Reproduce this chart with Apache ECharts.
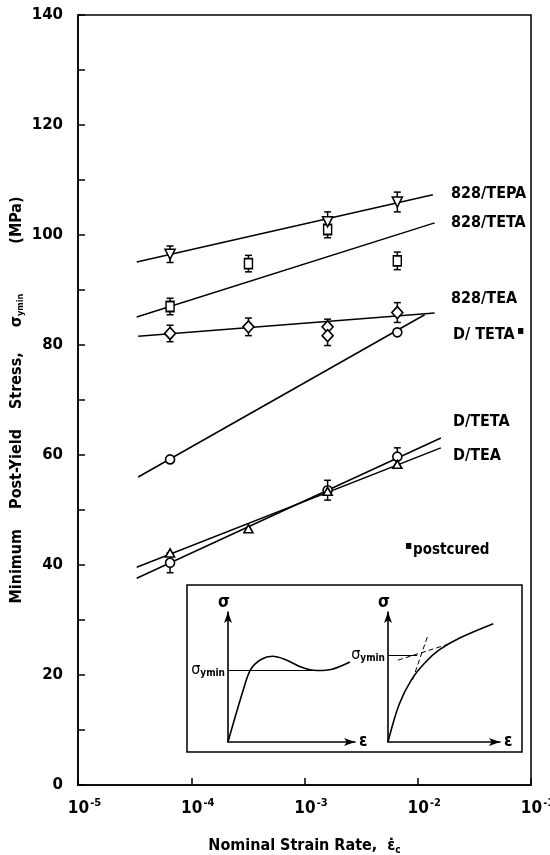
<!DOCTYPE html>
<html>
<head>
<meta charset="utf-8">
<script src="https://cdn.jsdelivr.net/npm/echarts@6/dist/echarts.min.js"></script>
<style>
  html, body { margin: 0; padding: 0; background: #fff; }
  #chart { width: 550px; height: 855px; }
</style>
</head>
<body>
<div id="chart"></div>
<script>
// Nominal strain rates (s^-1) at which tests were run
const rates = [6.5e-5, 3.2e-4, 1.6e-3, 6.6e-3];

// Measured minimum post-yield stress (MPa) and error half-widths
const tepaX = [6.5e-5, 1.6e-3, 6.6e-3];
const tepaY = [96.5, 102.4, 106.0];
const tepaErr = [1.5, 1.8, 1.8];

const tetaX = [6.5e-5, 3.2e-4, 1.6e-3, 6.6e-3];
const tetaY = [87.0, 94.8, 101.0, 95.3];
const tetaErr = [1.5, 1.5, 1.5, 1.6];

const teaX = [6.5e-5, 3.2e-4, 1.6e-3, 1.6e-3, 6.6e-3];
const teaY = [82.1, 83.3, 83.3, 81.7, 85.9];
const teaErr = [1.5, 1.6, 1.4, 1.8, 1.8];

const dTetaPcX = [6.5e-5, 6.6e-3];
const dTetaPcY = [59.2, 82.3];

const dTetaX = [6.5e-5, 1.6e-3, 6.6e-3];
const dTetaY = [40.4, 53.6, 59.7];
const dTetaErr = [1.8, 1.8, 1.6];

const dTeaX = [6.5e-5, 3.2e-4, 1.6e-3, 6.6e-3];
const dTeaY = [42.2, 46.6, 53.4, 58.3];

// Fitted straight lines (stress vs log rate): [start, end]
const tepaFit = [[3.3e-5, 95.1], [1.36e-2, 107.3]];
const tetaFit = [[3.3e-5, 85.1], [1.41e-2, 102.2]];
const teaFit = [[3.4e-5, 81.6], [1.41e-2, 85.8]];
const dTetaPcFit = [[3.4e-5, 56.0], [1.15e-2, 85.5]];
const dTetaFit = [[3.3e-5, 37.6], [1.6e-2, 63.1]];
const dTeaFit = [[3.3e-5, 39.6], [1.6e-2, 61.3]];

// Axis settings
const yTicks = [0, 20, 40, 60, 80, 100, 120, 140];
const xExponents = [-5, -4, -3, -2, -1];

// Schematic stress-strain sketches for the inset (arbitrary units)
const sketchA = [[0, 0], [1.2, 4.0], [1.8, 5.6], [2.6, 6.35], [3.5, 6.6], [4.5, 6.35], [5.8, 5.75], [7.0, 5.5], [8.2, 5.6], [9.6, 6.15]];
const sketchAMin = 5.55;
const sketchB = [[0, 0], [1.0, 2.9], [2.1, 4.8], [3.3, 6.1], [4.6, 7.1], [6.4, 8.0], [9.4, 9.1]];
const sketchBMin = 6.7;
const tangentSteep = [[2.2, 4.8], [3.6, 8.3]];
const tangentFlat = [[0.9, 6.3], [5.3, 7.5]];

const FONT = '"DejaVu Sans Condensed", "DejaVu Sans", sans-serif';
const WIDE = '"DejaVu Sans", sans-serif';
const zip = (xs, ys) => xs.map((x, i) => [x, ys[i]]);
const errData = (xs, ys, es) => xs.map((x, i) => [x, ys[i] - es[i], ys[i] + es[i]]);

function errorBars(data) {
  return {
    type: 'custom', xAxisIndex: 0, yAxisIndex: 0, z: 3,
    data: data,
    renderItem: function (params, api) {
      const x = api.value(0);
      const lo = api.coord([x, api.value(1)]);
      const hi = api.coord([x, api.value(2)]);
      const cap = 3.5;
      const st = { stroke: '#000', lineWidth: 1.5 };
      return {
        type: 'group',
        children: [
          { type: 'line', shape: { x1: lo[0], y1: lo[1], x2: hi[0], y2: hi[1] }, style: st },
          { type: 'line', shape: { x1: lo[0] - cap, y1: lo[1], x2: lo[0] + cap, y2: lo[1] }, style: st },
          { type: 'line', shape: { x1: hi[0] - cap, y1: hi[1], x2: hi[0] + cap, y2: hi[1] }, style: st }
        ]
      };
    }
  };
}

function fitLine(data) {
  return {
    type: 'line', xAxisIndex: 0, yAxisIndex: 0, z: 2,
    data: data, symbol: 'none', silent: true,
    lineStyle: { color: '#000', width: 1.5 }
  };
}

function points(data, symbol, size, rotate) {
  return {
    type: 'scatter', xAxisIndex: 0, yAxisIndex: 0, z: 4,
    data: data, symbol: symbol, symbolSize: size, symbolRotate: rotate || 0,
    itemStyle: { color: '#fff', borderColor: '#000', borderWidth: 1.6, opacity: 1 }
  };
}

function sketchLine(data, gridIdx, dashed) {
  return {
    type: 'line', xAxisIndex: gridIdx, yAxisIndex: gridIdx, z: 10,
    data: data, symbol: 'none', smooth: dashed ? false : 0.35, silent: true,
    lineStyle: { color: '#000', width: dashed ? 1 : 1.6, type: dashed ? [5, 3] : 'solid' }
  };
}

function minMark(level, endX) {
  return {
    silent: true, symbol: 'none',
    lineStyle: { color: '#000', width: 1, type: 'solid' },
    label: {
      position: 'start', distance: 3,
      formatter: '{a|σ}{b|ymin}',
      rich: {
        a: { fontFamily: FONT, fontSize: 16, color: '#000' },
        b: { fontFamily: FONT, fontSize: 10, fontWeight: 'bold', color: '#000', padding: [8, 0, 0, 0] }
      }
    },
    data: [[{ coord: [0, level] }, { coord: [endX, level] }]]
  };
}

const insetAxis = (type) => ({
  type: 'value', min: 0, max: 10, z: 10,
  axisLine: { show: true, symbol: ['none', 'arrow'], symbolSize: [6, 11], lineStyle: { color: '#000', width: 1.6 } },
  axisTick: { show: false }, axisLabel: { show: false }, splitLine: { show: false },
  name: type === 'x' ? 'ε' : 'σ',
  nameLocation: 'end',
  nameGap: type === 'x' ? 4 : 1,
  nameTextStyle: { fontFamily: FONT, fontSize: 17, fontWeight: 'bold', color: '#000', padding: type === 'x' ? 0 : [0, 8, 0, 0] }
});

const chart = echarts.init(document.getElementById('chart'), null, { renderer: 'canvas' });

chart.setOption({
  backgroundColor: '#fff',
  animation: false,
  grid: [
    { left: 78, right: 19, top: 15, bottom: 70, show: true, borderColor: '#000', borderWidth: 1.5, backgroundColor: 'transparent', containLabel: false, outerBoundsMode: 'none' },
    { left: 228, top: 612, width: 127, height: 130, z: 10, containLabel: false, outerBoundsMode: 'none' },
    { left: 388, top: 612, width: 112, height: 130, z: 10, containLabel: false, outerBoundsMode: 'none' }
  ],
  xAxis: [
    {
      gridIndex: 0, type: 'log', logBase: 10, min: 1e-5, max: 1e-1,
      axisLine: { lineStyle: { color: '#000', width: 1.5 } },
      axisTick: { inside: true, length: 7, lineStyle: { color: '#000', width: 1.5 } },
      splitLine: { show: false },
      axisLabel: {
        margin: 13,
        formatter: function (v) {
          const e = Math.round(Math.log10(v));
          return '{b|10}{s|' + e + '}';
        },
        rich: {
          b: { fontFamily: FONT, fontSize: 17, fontWeight: 'bold', color: '#000', padding: [0, 0, 0, 13] },
          s: { fontFamily: FONT, fontSize: 11, fontWeight: 'bold', color: '#000', padding: [0, 0, 10, 1] }
        }
      },
      name: 'Nominal Strain Rate,  {e|ε̇}{c|c}',
      nameLocation: 'middle', nameGap: 52,
      nameTextStyle: {
        fontFamily: FONT, fontSize: 16, fontWeight: 'bold', color: '#000',
        rich: {
          e: { fontFamily: FONT, fontSize: 16, fontWeight: 'bold', color: '#000' },
          c: { fontFamily: FONT, fontSize: 10, fontWeight: 'bold', color: '#000', padding: [8, 0, 0, 0] }
        }
      }
    },
    Object.assign(insetAxis('x'), { gridIndex: 1 }),
    Object.assign(insetAxis('x'), { gridIndex: 2 })
  ],
  yAxis: [
    {
      gridIndex: 0, type: 'value', min: 0, max: 140, interval: 20,
      axisLine: { show: true, lineStyle: { color: '#000', width: 1.5 } },
      axisTick: { show: true, inside: true, length: 7, lineStyle: { color: '#000', width: 1.5 } },
      minorTick: { show: true, splitNumber: 2, length: 7, lineStyle: { color: '#000', width: 1.5 } },
      splitLine: { show: false },
      axisLabel: { margin: 15, fontFamily: WIDE, fontSize: 15, fontWeight: 'bold', color: '#000' },
      name: 'Minimum    Post-Yield    Stress,     {s|σ}{m|ymin}          (MPa)',
      nameLocation: 'middle', nameGap: 53, nameRotate: 90, nameMoveOverlap: false,
      nameTextStyle: {
        fontFamily: FONT, fontSize: 16, fontWeight: 'bold', color: '#000',
        rich: {
          s: { fontFamily: FONT, fontSize: 16, color: '#000' },
          m: { fontFamily: FONT, fontSize: 9, fontWeight: 'bold', color: '#000', padding: [8, 0, 0, 0] }
        }
      }
    },
    Object.assign(insetAxis('y'), { gridIndex: 1 }),
    Object.assign(insetAxis('y'), { gridIndex: 2 })
  ],
  graphic: [
    { type: 'rect', z: 1, shape: { x: 187, y: 585, width: 335, height: 167 }, style: { fill: '#fff', stroke: '#000', lineWidth: 1.5 } },
    { type: 'text', left: 451, top: 186, style: { text: '828/TEPA', font: 'bold 16px ' + FONT, fill: '#000' } },
    { type: 'text', left: 451, top: 215, style: { text: '828/TETA', font: 'bold 16px ' + FONT, fill: '#000' } },
    { type: 'text', left: 451, top: 291, style: { text: '828/TEA', font: 'bold 16px ' + FONT, fill: '#000' } },
    { type: 'text', left: 453, top: 327, style: { text: 'D/ TETA', font: 'bold 16px ' + FONT, fill: '#000' } },
    { type: 'text', left: 517, top: 325, style: { text: '▪', font: 'bold 12px ' + FONT, fill: '#000' } },
    { type: 'text', left: 453, top: 414, style: { text: 'D/TETA', font: 'bold 16px ' + FONT, fill: '#000' } },
    { type: 'text', left: 453, top: 448, style: { text: 'D/TEA', font: 'bold 16px ' + FONT, fill: '#000' } },
    { type: 'text', left: 405, top: 540, style: { text: '▪', font: 'bold 12px ' + FONT, fill: '#000' } },
    { type: 'text', left: 413, top: 543, style: { text: 'postcured', font: 'bold 15px ' + FONT, fill: '#000' } }
  ],
  series: [
    fitLine(tepaFit), fitLine(tetaFit), fitLine(teaFit),
    fitLine(dTetaPcFit), fitLine(dTetaFit), fitLine(dTeaFit),

    errorBars(errData(tepaX, tepaY, tepaErr)),
    errorBars(errData(tetaX, tetaY, tetaErr)),
    errorBars(errData(teaX, teaY, teaErr)),
    errorBars(errData(dTetaX, dTetaY, dTetaErr)),

    points(zip(tetaX, tetaY), 'rect', [8, 10]),
    points(zip(tepaX, tepaY), 'triangle', [10, 10], 180),
    points(zip(teaX, teaY), 'diamond', [11, 12]),
    points(zip(dTetaPcX, dTetaPcY), 'circle', 9),
    points(zip(dTetaX, dTetaY), 'circle', 9),
    points(zip(dTeaX, dTeaY), 'triangle', [9, 8]),

    Object.assign(sketchLine(sketchA, 1, false), { markLine: minMark(sketchAMin, 7.0) }),
    Object.assign(sketchLine(sketchB, 2, false), { markLine: minMark(sketchBMin, 2.6) }),
    sketchLine(tangentSteep, 2, true),
    sketchLine(tangentFlat, 2, true)
  ]
});
</script>
</body>
</html>
